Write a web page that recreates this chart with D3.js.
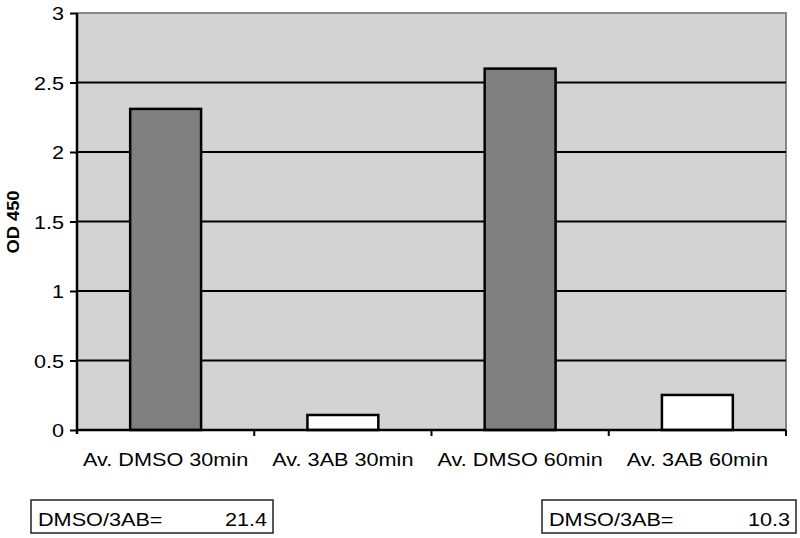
<!DOCTYPE html>
<html>
<head>
<meta charset="UTF-8">
<title>OD 450</title>
<script src="https://cdnjs.cloudflare.com/ajax/libs/d3/7.8.5/d3.min.js"></script>
<style>
    body { margin: 0; background: #fff; }
    svg { display: block; font-family: "Liberation Sans", Arial, sans-serif; }
</style>
</head>
<body>
<svg id="chart" width="800" height="538"></svg>
<script>
    // data
    var categories = ["Av. DMSO 30min", "Av. 3AB 30min", "Av. DMSO 60min", "Av. 3AB 60min"];
    var odValues = [2.31, 0.108, 2.6, 0.252];
    var barFills = ["#808080", "#ffffff", "#808080", "#ffffff"];
    var yTicks = [0, 0.5, 1, 1.5, 2, 2.5, 3];
    var ratioLabels = ["DMSO/3AB=", "DMSO/3AB="];
    var ratioValues = ["21.4", "10.3"];

    var svg = d3.select("#chart");
    // note: "top" is taken by window.top, so plot edges get their own names
    var plotLeft = 77, plotRight = 786, plotTop = 13, plotBottom = 430;
    var stretch = 1.17;  // text in the source looks a little wide

    var x = d3.scaleBand().domain(categories).range([plotLeft, plotRight]).padding(0);
    var y = d3.scaleLinear().domain([0, 3]).range([plotBottom, plotTop]);

    function wideText(sel, tx, ty, str, anchor, size) {
        return sel.append("text")
            .attr("transform", `translate(${tx},${ty}) scale(${stretch},1)`)
            .attr("text-anchor", anchor)
            .style("font-size", size + "px")
            .style("fill", "#000")
            .text(str);
    }

    // plot background + grey frame
    svg.append("rect")
        .attr("x", plotLeft).attr("y", plotTop)
        .attr("width", plotRight - plotLeft).attr("height", plotBottom - plotTop)
        .style("fill", "#d3d3d3")
        .style("stroke", "#888")
        .style("stroke-width", 2);

    // gridlines
    svg.selectAll("line.grid")
        .data(yTicks.filter(d => d > 0 && d < 3))
        .enter()
        .append("line")
        .attr("class", "grid")
        .attr("x1", plotLeft).attr("x2", plotRight)
        .attr("y1", d => y(d)).attr("y2", d => y(d))
        .style("stroke", "#000")
        .style("stroke-width", 2);

    // bars
    var bw = x.bandwidth() * 0.4;
    svg.selectAll("rect.bar")
        .data(odValues)
        .enter()
        .append("rect")
        .attr("class", "bar")
        .attr("x", (d, i) => x(categories[i]) + (x.bandwidth() - bw) / 2)
        .attr("y", d => y(d))
        .attr("width", bw)
        .attr("height", d => y(0) - y(d))
        .style("fill", (d, i) => barFills[i])
        .style("stroke", "#000")
        .style("stroke-width", 2.5);

    // y axis
    var yAxis = svg.append("g")
        .attr("transform", `translate(${plotLeft},0)`)
        .call(d3.axisLeft(y).tickValues(yTicks).tickSize(7).tickFormat(d3.format("~g")));
    yAxis.select(".domain")
        .attr("d", `M0,${plotTop}V${plotBottom + 4}`)
        .style("stroke", "#000")
        .style("stroke-width", 2.5);
    yAxis.selectAll(".tick line").style("stroke", "#000").style("stroke-width", 2);
    yAxis.selectAll(".tick text")
        .attr("x", -11)
        .attr("dy", "0.36em")
        .attr("transform", `scale(${stretch},1)`)
        .style("font-size", "18.5px")
        .style("fill", "#000");

    // x axis line + boundary ticks
    svg.append("line")
        .attr("x1", plotLeft).attr("x2", plotRight)
        .attr("y1", plotBottom).attr("y2", plotBottom)
        .style("stroke", "#000").style("stroke-width", 2.5);
    svg.selectAll("line.xtick")
        .data(categories)
        .enter()
        .append("line")
        .attr("class", "xtick")
        .attr("x1", d => x(d) + x.bandwidth()).attr("x2", d => x(d) + x.bandwidth())
        .attr("y1", plotBottom).attr("y2", plotBottom + 6)
        .style("stroke", "#000").style("stroke-width", 2);

    categories.forEach(c => {
        wideText(svg, x(c) + x.bandwidth() / 2, 466, c, "middle", 18.5);
    });

    // y label
    svg.append("text")
        .attr("transform", "translate(19,222) rotate(-90)")
        .attr("text-anchor", "middle")
        .attr("textLength", 63)
        .attr("lengthAdjust", "spacingAndGlyphs")
        .style("font-size", "16.5px")
        .style("font-weight", "bold")
        .style("fill", "#000")
        .text("OD 450");

    // ratio boxes under the chart
    var boxes = [{x0: 31, x1: 273}, {x0: 542, x1: 796}];
    boxes.forEach((b, i) => {
        svg.append("rect")
            .attr("x", b.x0).attr("y", 500)
            .attr("width", b.x1 - b.x0).attr("height", 33)
            .style("fill", "#fff")
            .style("stroke", "#222")
            .style("stroke-width", 1.5);
        wideText(svg, b.x0 + 7, 526, ratioLabels[i], "start", 18.5);
        wideText(svg, b.x1 - 6, 526, ratioValues[i], "end", 18.5);
    });
</script>
</body>
</html>
